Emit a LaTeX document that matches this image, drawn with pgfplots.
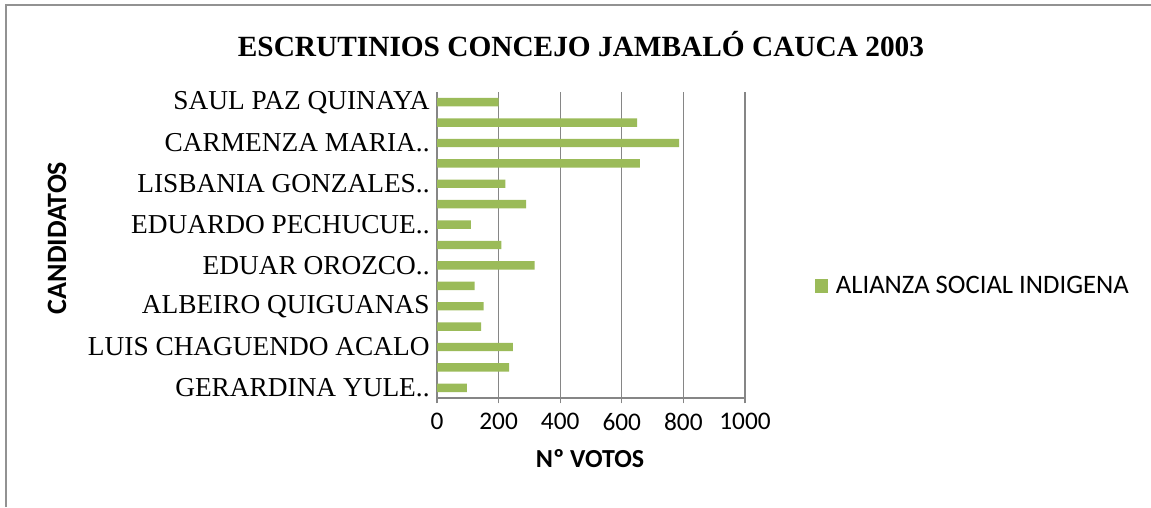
\documentclass[border=0pt]{standalone}
\usepackage{pgfplots}
\pgfplotsset{compat=1.18}
\usepackage{fontspec}
\setmainfont{Liberation Serif}
\newfontfamily\calibri{Carlito}
\definecolor{bargreen}{HTML}{9BBB59}
\definecolor{gridgray}{HTML}{868686}
\begin{document}
\begin{tikzpicture}[x=0.75pt,y=0.75pt]
  \path[use as bounding box] (0,0) rectangle (1151,507);
  \draw[gridgray!90, line width=1.6pt] (6,0) -- (6,502) -- (1151,502);
  \node[font=\bfseries\fontsize{22}{26}\selectfont] at (581,463) {ESCRUTINIOS CONCEJO JAMBALÓ CAUCA 2003};
  \node[font=\calibri\bfseries\fontsize{21}{24}\selectfont, rotate=90] at (57,269) {CANDIDATOS};
  \node[font=\calibri\bfseries\fontsize{19.5}{22}\selectfont] at (590,48) {Nº VOTOS};
  \begin{axis}[
      at={(327.75pt,81.75pt)}, anchor=south west,
      scale only axis,
      width=231pt, height=229.5pt,
      xbar, bar width=6.3pt,
      xmin=0, xmax=1000,
      ymin=0.5, ymax=15.5,
      xtick={0,200,...,1000},
      ytick={1,3,...,15},
      yticklabels={GERARDINA YULE.., LUIS CHAGUENDO ACALO, ALBEIRO QUIGUANAS, EDUAR OROZCO.., EDUARDO PECHUCUE.., LISBANIA GONZALES.., CARMENZA MARIA.., SAUL PAZ QUINAYA},
      /pgf/number format/assume math mode=true,
      /pgf/number format/1000 sep={},
      xticklabel style={font=\calibri\fontsize{19}{22}\selectfont, yshift=-4pt},
      yticklabel style={font=\fontsize{20.5}{24}\selectfont, xshift=2pt},
      xmajorgrids,
      major grid style={gridgray, line width=0.9pt},
      axis x line*=bottom,
      axis y line*=left,
      axis line style={gridgray, line width=0.9pt},
      x axis line style={-},
      y axis line style={-},
      xtick style={gridgray, line width=0.9pt},
      xtick align=outside,
      major tick length=4pt,
      ytick style={draw=none},
      legend style={at={(1.225,0.366)}, anchor=west, draw=none, fill=none,
        font=\calibri\fontsize{20}{24}\selectfont,
        legend cell align=left, inner sep=0pt},
      legend image code/.code={\fill[bargreen] (0pt,-5pt) rectangle (10pt,5pt); \path (14pt,0pt);},
    ]
    \addplot[fill=bargreen, draw=none] coordinates {
      (97,1) (234,2) (246,3) (143,4) (151,5) (122,6) (317,7) (209,8)
      (110,9) (289,10) (222,11) (659,12) (786,13) (650,14) (200,15)};
    \legend{ALIANZA SOCIAL INDIGENA}
  \end{axis}
\end{tikzpicture}
\end{document}
